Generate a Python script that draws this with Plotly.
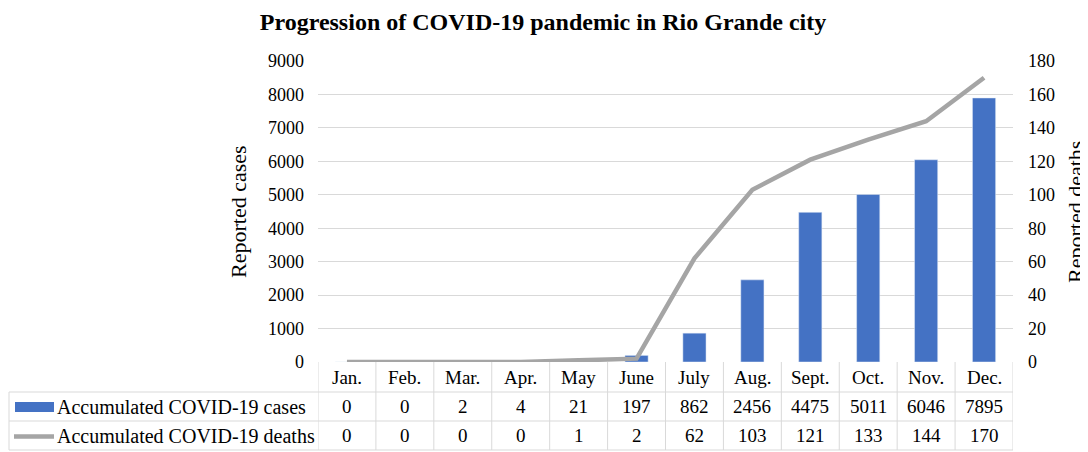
import plotly.graph_objects as go

months = ["Jan.", "Feb.", "Mar.", "Apr.", "May", "June", "July", "Aug.", "Sept.", "Oct.", "Nov.", "Dec."]
cases = [0, 0, 2, 4, 21, 197, 862, 2456, 4475, 5011, 6046, 7895]
deaths = [0, 0, 0, 0, 1, 2, 62, 103, 121, 133, 144, 170]
case_ticks = [0, 1000, 2000, 3000, 4000, 5000, 6000, 7000, 8000, 9000]
death_ticks = [0, 20, 40, 60, 80, 100, 120, 140, 160, 180]
series_names = ["Accumulated COVID-19 cases", "Accumulated COVID-19 deaths"]
title_text = "Progression of COVID-19 pandemic in Rio Grande city"

O = 8  # page body offset
W, H = 1088 - O, 452 - O
L, R, T, B = 318, 1013, 61, 362  # plot box in page pixels
FONT = "Liberation Serif"
BLUE = "#4472C4"
GRAY = "#A5A5A5"
GRID = "#D9D9D9"


def px(x):
    return (x - L) / (R - L)


def py(y):
    return (B - y) / (B - T)


fig = go.Figure()
fig.add_trace(go.Bar(x=months, y=cases, name=series_names[0], marker_color=BLUE,
                     width=0.4, yaxis="y"))
fig.add_trace(go.Scatter(x=months, y=deaths, name=series_names[1], mode="lines",
                         line=dict(color=GRAY, width=4.5), yaxis="y2"))

shapes = []
line_style = dict(color=GRID, width=1)
for yy in [392, 421, 450]:
    shapes.append(dict(type="line", xref="paper", yref="paper", x0=px(9), x1=1,
                       y0=py(yy), y1=py(yy), line=line_style, layer="below"))
for i in range(len(months) + 1):
    shapes.append(dict(type="line", xref="x", yref="paper", x0=i - 0.5, x1=i - 0.5,
                       y0=0, y1=py(450), line=line_style, layer="below"))
shapes.append(dict(type="line", xref="paper", yref="paper", x0=px(9), x1=px(9),
                   y0=py(392), y1=py(450), line=line_style, layer="below"))
shapes.append(dict(type="rect", xref="paper", yref="paper", x0=px(15), x1=px(54),
                   y0=py(412), y1=py(402), fillcolor=BLUE, line=dict(width=0)))
shapes.append(dict(type="line", xref="paper", yref="paper", x0=px(14), x1=px(54),
                   y0=py(436.5), y1=py(436.5), line=dict(color=GRAY, width=4.5)))

ann = []
tf = dict(family=FONT, size=19, color="#000000")
for i, m in enumerate(months):
    ann.append(dict(x=m, xref="x", y=py(377), yref="paper", text=m, showarrow=False,
                    font=tf, xanchor="center", yanchor="middle"))
    ann.append(dict(x=m, xref="x", y=py(406.5), yref="paper", text=str(cases[i]),
                    showarrow=False, font=tf, xanchor="center", yanchor="middle"))
    ann.append(dict(x=m, xref="x", y=py(435.5), yref="paper", text=str(deaths[i]),
                    showarrow=False, font=tf, xanchor="center", yanchor="middle"))
lf = dict(family=FONT, size=20, color="#000000")
ann.append(dict(x=px(55), xref="paper", y=py(406.5), yref="paper", text=series_names[0],
                showarrow=False, font=lf, xanchor="left", yanchor="middle"))
ann.append(dict(x=px(55), xref="paper", y=py(435.5), yref="paper", text=series_names[1],
                showarrow=False, font=lf, xanchor="left", yanchor="middle"))
af = dict(family=FONT, size=22, color="#000")
ann.append(dict(x=px(238), xref="paper", y=py(212), yref="paper", text="Reported cases",
                showarrow=False, textangle=-90, font=af, xanchor="center", yanchor="middle"))
ann.append(dict(x=px(1075), xref="paper", y=py(212), yref="paper", text="Reported deaths",
                showarrow=False, textangle=-90, font=af, xanchor="center", yanchor="middle"))

fig.update_layout(
    width=W, height=H,
    margin=dict(l=L - O, r=W - (R - O), t=T - O, b=H - (B - O), pad=0, autoexpand=False),
    paper_bgcolor="white", plot_bgcolor="white",
    showlegend=False,
    title=dict(text="<b>" + title_text + "</b>", x=(543 - O) / W, xanchor="center",
               y=1 - (22 - O) / H, yanchor="middle",
               font=dict(family=FONT, size=24, color="#000")),
    xaxis=dict(type="category", range=[-0.5, len(months) - 0.5], showticklabels=False,
               showgrid=False, zeroline=False, showline=False, ticks=""),
    yaxis=dict(range=[0, 9000], tickvals=case_ticks, showgrid=True, gridcolor=GRID,
               gridwidth=1, zeroline=False, showline=False, ticks="",
               ticklabelstandoff=13, tickfont=dict(family=FONT, size=18, color="#000")),
    yaxis2=dict(range=[0, 180], tickvals=death_ticks, overlaying="y", side="right",
                showgrid=False, zeroline=False, showline=False, ticks="",
                ticklabelstandoff=14, tickfont=dict(family=FONT, size=18, color="#000")),
    shapes=shapes,
    annotations=ann,
    font=dict(family=FONT),
)

fig.write_html("out.html")
